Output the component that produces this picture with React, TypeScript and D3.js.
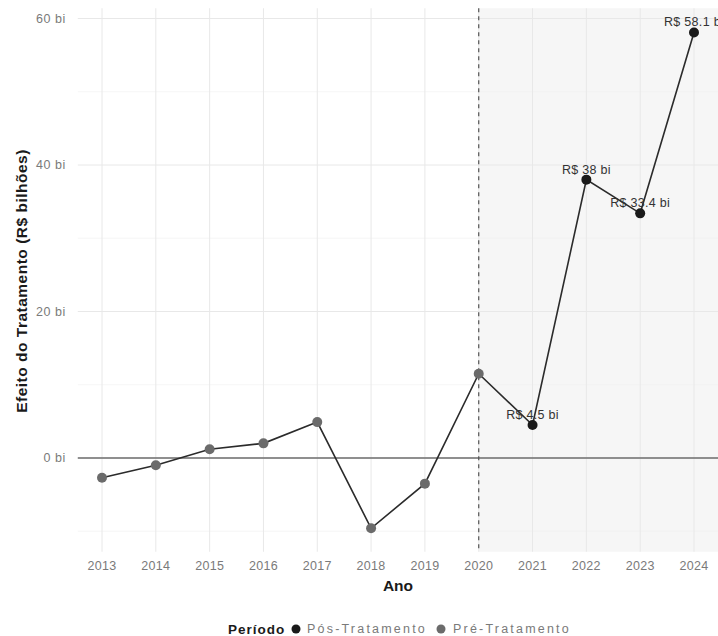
import React from "react";
import * as d3 from "d3";

const years = [2013, 2014, 2015, 2016, 2017, 2018, 2019, 2020, 2021, 2022, 2023, 2024];
const effects = [-2.7, -1.0, 1.2, 2.0, 4.9, -9.6, -3.5, 11.5, 4.5, 38.0, 33.4, 58.1];
const periods = ["Pré", "Pré", "Pré", "Pré", "Pré", "Pré", "Pré", "Pré", "Pós", "Pós", "Pós", "Pós"];
const labeledYears = [2021, 2022, 2023, 2024];
const yTicks = [0, 20, 40, 60];
const yMinor = [-10, 10, 30, 50];
const legendItems = ["Pós-Tratamento", "Pré-Tratamento"];

const W = 718;
const H = 636;
const FONT = "'Liberation Sans', Arial, sans-serif";

export default function App() {
  const x = d3.scaleLinear().domain([2013, 2024]).range([102, 694]);
  const y = d3.scaleLinear().domain([0, 60]).range([458, 18.5]);
  const pl = x(2012.55);
  const pr = x(2024.45);
  const pt = y(61.4);
  const pb = y(-12.8);
  const data = years.map((yr, i) => ({ yr, v: effects[i], p: periods[i] }));
  const line = d3
    .line<{ yr: number; v: number }>()
    .x((d) => x(d.yr))
    .y((d) => y(d.v));
  const colorOf = (p: string) => (p === "Pós" ? "#1a1a1a" : "#6b6b6b");
  const fmt = (v: number) => `R$ ${d3.format("~")(v)} bi`;

  return (
    <svg
      width={W}
      height={H}
      style={{ position: "absolute", left: 0, top: 0, background: "#fff" }}
      fontFamily={FONT}
    >
      {/* shaded post-treatment region */}
      <rect x={x(2020)} y={pt} width={pr - x(2020)} height={pb - pt} fill="#f6f6f6" />
      {/* minor gridlines */}
      {yMinor.map((v) => (
        <line key={"ym" + v} x1={pl} x2={pr} y1={y(v)} y2={y(v)} stroke="#f0f0f0" strokeWidth={0.6} />
      ))}
      {/* major gridlines */}
      {yTicks.map((v) => (
        <line key={"y" + v} x1={pl} x2={pr} y1={y(v)} y2={y(v)} stroke="#e8e8e8" strokeWidth={1} />
      ))}
      {years.map((yr) => (
        <line key={"x" + yr} x1={x(yr)} x2={x(yr)} y1={pt} y2={pb} stroke="#e8e8e8" strokeWidth={1} />
      ))}
      {/* zero line */}
      <line x1={pl} x2={pr} y1={y(0)} y2={y(0)} stroke="#6e6e6e" strokeWidth={1.3} />
      {/* treatment start */}
      <line
        x1={x(2020)}
        x2={x(2020)}
        y1={pt}
        y2={pb}
        stroke="#555"
        strokeWidth={1.2}
        strokeDasharray="4,4"
      />
      {/* line */}
      <path d={line(data) || ""} fill="none" stroke="#2b2b2b" strokeWidth={1.6} />
      {/* points */}
      {data.map((d) => (
        <circle key={"p" + d.yr} cx={x(d.yr)} cy={y(d.v)} r={5} fill={colorOf(d.p)} />
      ))}
      {/* labels */}
      {data
        .filter((d) => labeledYears.includes(d.yr))
        .map((d) => (
          <text
            key={"l" + d.yr}
            x={x(d.yr)}
            y={y(d.v) - 6}
            textAnchor="middle"
            fontSize={12.5}
            letterSpacing={0.3}
            fill="#333"
          >
            {fmt(d.v)}
          </text>
        ))}
      {/* y tick labels */}
      {yTicks.map((v) => (
        <text
          key={"yt" + v}
          x={66}
          y={y(v)}
          dy="0.35em"
          textAnchor="end"
          fontSize={12.5}
          letterSpacing={0.6}
          fill="#7a7a7a"
        >
          {`${v} bi`}
        </text>
      ))}
      {/* x tick labels */}
      {years.map((yr) => (
        <text
          key={"xt" + yr}
          x={x(yr)}
          y={pb + 18}
          textAnchor="middle"
          fontSize={12.5}
          letterSpacing={0.3}
          fill="#7a7a7a"
        >
          {yr}
        </text>
      ))}
      {/* axis titles */}
      <text x={398} y={591} textAnchor="middle" fontSize={15.5} fontWeight="bold" fill="#1a1a1a">
        Ano
      </text>
      <text
        transform={`translate(27, 281) rotate(-90)`}
        textAnchor="middle"
        fontSize={15.5}
        letterSpacing={0.5}
        fontWeight="bold"
        fill="#1a1a1a"
      >
        Efeito do Tratamento (R$ bilhões)
      </text>
      {/* legend */}
      <g transform="translate(0, 629)">
        <text x={228} y={0} dy="0.35em" fontSize={13.5} letterSpacing={1} fontWeight="bold" fill="#1a1a1a">
          Período
        </text>
        <circle cx={296} cy={0} r={4.5} fill="#1a1a1a" />
        <text x={307} y={0} dy="0.35em" fontSize={12.5} letterSpacing={2.2} fill="#7a7a7a">
          {legendItems[0]}
        </text>
        <circle cx={441} cy={0} r={4.5} fill="#6b6b6b" />
        <text x={453} y={0} dy="0.35em" fontSize={12.5} letterSpacing={2.2} fill="#7a7a7a">
          {legendItems[1]}
        </text>
      </g>
    </svg>
  );
}
